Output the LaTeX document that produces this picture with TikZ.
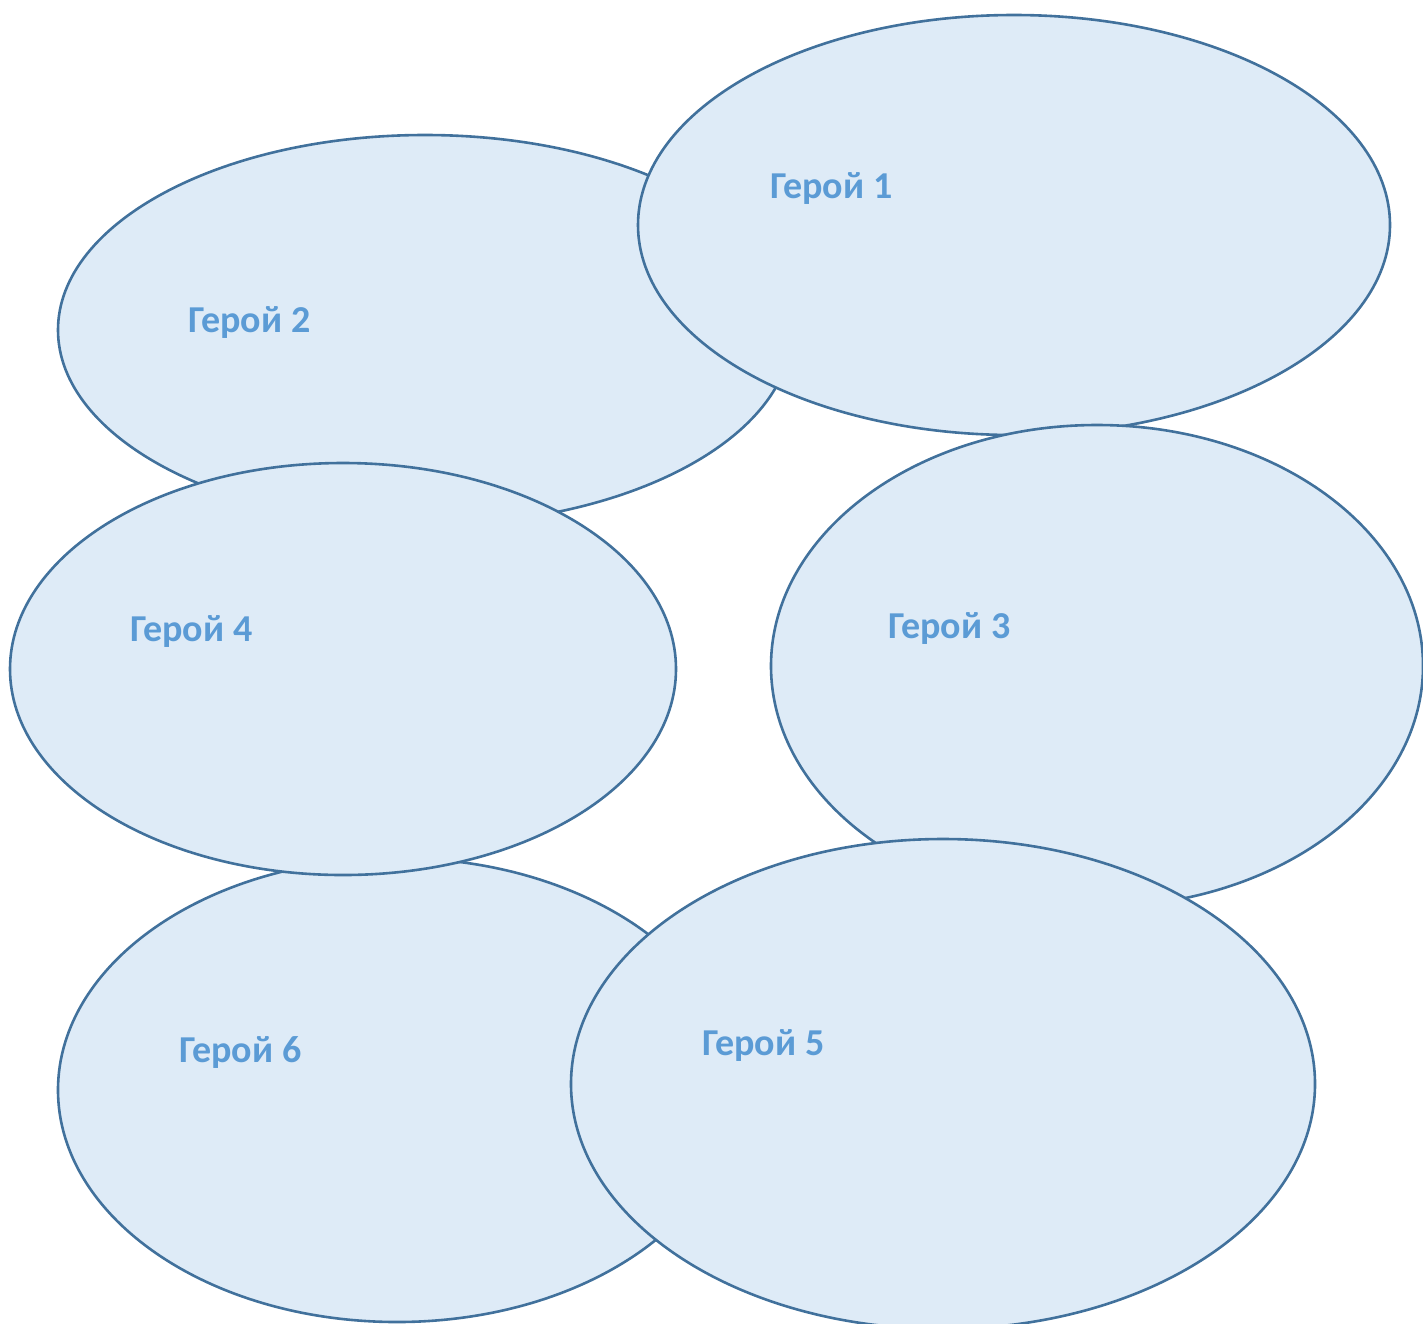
\documentclass[tikz,border=0pt]{standalone}
\usepackage{fontspec}
\setmainfont{Carlito}
\usetikzlibrary{shapes.geometric}
\definecolor{efill}{RGB}{222,235,247}
\definecolor{eline}{RGB}{65,113,156}
\definecolor{etext}{RGB}{91,155,213}
\tikzset{
  hero/.style={ellipse, draw=eline, fill=efill, line width=2.6pt, inner sep=0pt, outer sep=0pt},
  lbl/.style={anchor=base west, inner sep=0pt, text=etext, font=\fontsize{38}{45}\selectfont\bfseries}
}
\begin{document}
\begin{tikzpicture}[x=1pt,y=-1pt]
\useasboundingbox (0,0) rectangle (1423,1323);
\node[hero, minimum width=734pt, minimum height=390pt] (h2) at (425,330) {};
\node[hero, minimum width=678pt, minimum height=464pt] (h6) at (397,1090) {};
\node[hero, minimum width=752pt, minimum height=420pt] (h1) at (1014,225) {};
\node[hero, minimum width=666pt, minimum height=412pt] (h4) at (343,669) {};
\node[hero, minimum width=652pt, minimum height=482pt] (h3) at (1097,666) {};
\node[hero, minimum width=744pt, minimum height=490pt] (h5) at (943,1084) {};
\node[lbl] (t1) at (770,198) {Герой 1};
\node[lbl] (t2) at (188,332) {Герой 2};
\node[lbl] (t3) at (888,638) {Герой 3};
\node[lbl] (t4) at (130,641) {Герой 4};
\node[lbl] (t5) at (702,1055) {Герой 5};
\node[lbl] (t6) at (179,1062) {Герой 6};
\end{tikzpicture}
\end{document}
